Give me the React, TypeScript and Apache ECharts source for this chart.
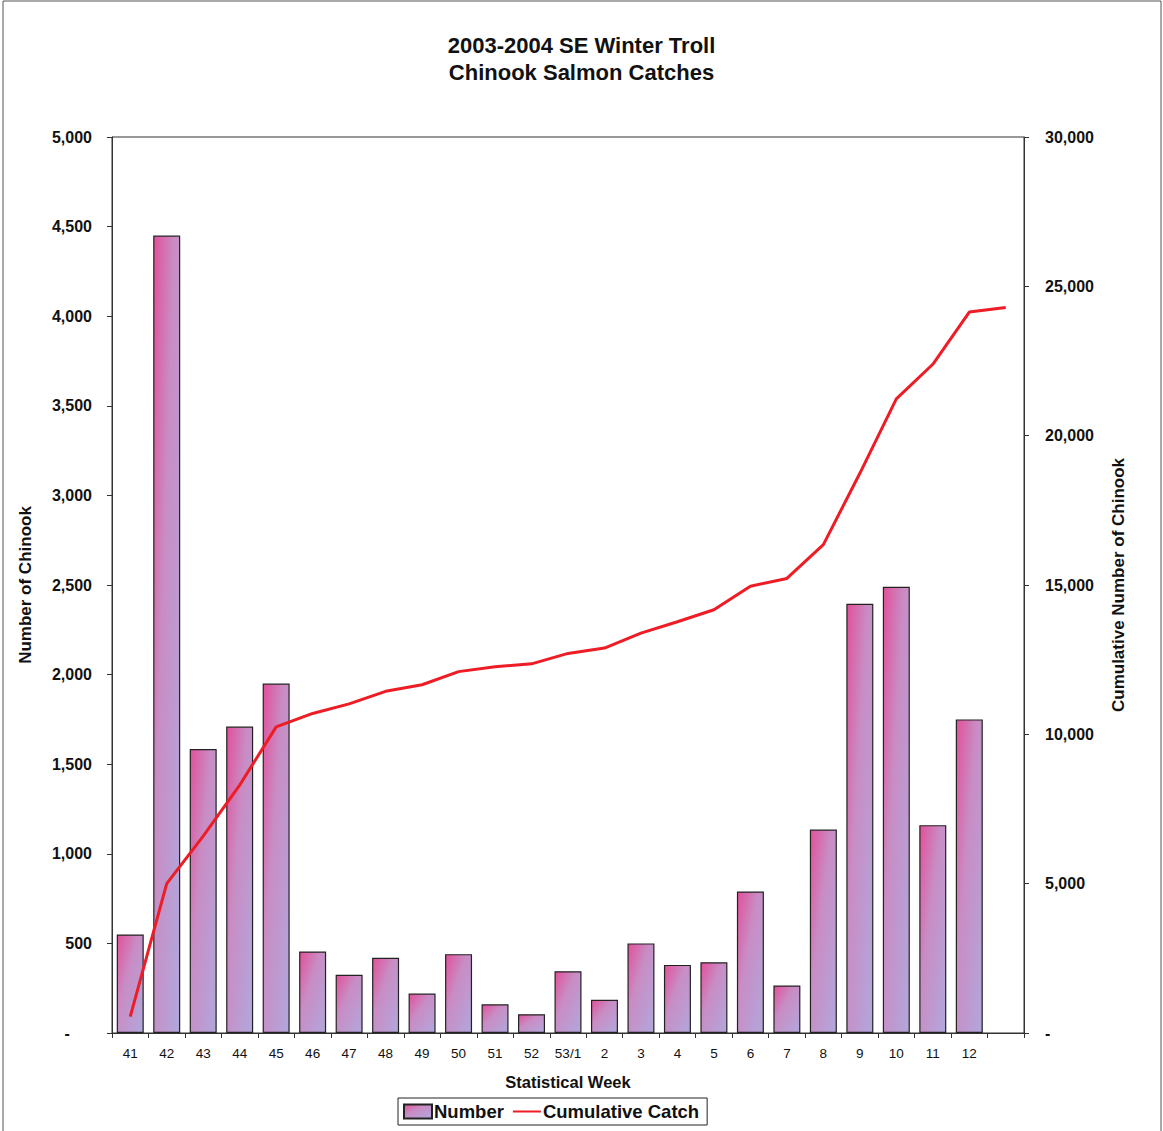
import React, { useEffect, useRef } from "react";
import * as echarts from "echarts";

const weeks = ["41", "42", "43", "44", "45", "46", "47", "48", "49", "50", "51", "52", "53/1", "2", "3", "4", "5", "6", "7", "8", "9", "10", "11", "12", ""];
const numbers = [550, 4450, 1585, 1710, 1950, 455, 325, 420, 220, 440, 160, 105, 345, 185, 500, 380, 395, 790, 265, 1135, 2395, 2490, 1160, 1750, null];
const cumulative = [550, 5000, 6590, 8300, 10250, 10700, 11020, 11440, 11660, 12100, 12260, 12360, 12710, 12890, 13390, 13770, 14170, 14960, 15220, 16350, 18740, 21230, 22390, 24140, 24290];
const leftTicks = { min: 0, max: 5000, interval: 500 };
const rightTicks = { min: 0, max: 30000, interval: 5000 };

const FONT = "'Liberation Sans', Arial, Helvetica, sans-serif";

export default function App() {
  const ref = useRef<HTMLDivElement>(null);
  useEffect(() => {
    if (!ref.current) return;
    const chart = echarts.init(ref.current, undefined, { renderer: "svg" });
    const fmt = (v: number) => v.toLocaleString("en-US");
    const barFill = new echarts.graphic.LinearGradient(0, 0, 1, 1, [
      { offset: 0, color: "#e2509a" },
      { offset: 0.4, color: "#c98cc4" },
      { offset: 1, color: "#b0a8dc" },
    ]);
    chart.setOption({
      animation: false,
      backgroundColor: "#ffffff",
      textStyle: { fontFamily: FONT, color: "#000" },
      title: {
        text: "2003-2004 SE Winter Troll\nChinook Salmon Catches",
        left: "center",
        top: 27,
        textStyle: { fontFamily: FONT, fontSize: 22, fontWeight: "bold", color: "#111", lineHeight: 27 },
      },
      graphic: [
        {
          type: "rect",
          shape: { x: 3, y: 1, width: 1158, height: 1140 },
          style: { fill: "none", stroke: "#555", lineWidth: 1 },
          silent: true,
        },
      ],
      legend: {
        left: 398,
        top: 1098,
        padding: [4, 8, 4, 5],
        itemGap: 8,
        itemWidth: 28,
        itemHeight: 14,
        borderColor: "#222",
        borderWidth: 1,
        textStyle: { fontFamily: FONT, fontSize: 18.5, fontWeight: "bold", color: "#111", padding: [0, 0, 0, -3] },
        data: [
          { name: "Number", icon: "rect" },
          {
            name: "Cumulative Catch",
            itemStyle: { color: "rgba(0,0,0,0)", borderColor: "rgba(0,0,0,0)", borderWidth: 0 },
          },
        ],
      },
      grid: {
        left: 112,
        right: 139,
        top: 137,
        bottom: 98,
        show: true,
        borderColor: "#333",
        borderWidth: 1,
        backgroundColor: "transparent",
      },
      xAxis: {
        type: "category",
        data: weeks,
        boundaryGap: true,
        name: "Statistical Week",
        nameLocation: "middle",
        nameGap: 40,
        nameTextStyle: { fontFamily: FONT, fontSize: 16.5, fontWeight: "bold", color: "#111" },
        axisLine: { lineStyle: { color: "#333", width: 1 } },
        axisTick: { show: true, length: 5, alignWithLabel: false, lineStyle: { color: "#333" } },
        axisLabel: { interval: 0, fontSize: 13.5, color: "#111", margin: 13, fontFamily: FONT },
      },
      yAxis: [
        {
          type: "value",
          position: "left",
          min: leftTicks.min,
          max: leftTicks.max,
          interval: leftTicks.interval,
          name: "Number of Chinook",
          nameLocation: "middle",
          nameRotate: 90,
          nameGap: 78,
          nameTextStyle: { fontFamily: FONT, fontSize: 17, fontWeight: "bold", color: "#111" },
          splitLine: { show: false },
          axisLine: { show: true, lineStyle: { color: "#333", width: 1 } },
          axisTick: { show: true, length: 5, lineStyle: { color: "#333" } },
          axisLabel: {
            fontSize: 16,
            fontWeight: "bold",
            color: "#111",
            margin: 20,
            fontFamily: FONT,
            formatter: (v: number) => (v === 0 ? "-     " : fmt(v)),
          },
        },
        {
          type: "value",
          position: "right",
          min: rightTicks.min,
          max: rightTicks.max,
          interval: rightTicks.interval,
          name: "Cumulative Number of Chinook",
          nameLocation: "middle",
          nameRotate: 90,
          nameGap: 86,
          nameTextStyle: { fontFamily: FONT, fontSize: 17, fontWeight: "bold", color: "#111" },
          splitLine: { show: false },
          axisLine: { show: true, lineStyle: { color: "#333", width: 1 } },
          axisTick: { show: true, length: 5, lineStyle: { color: "#333" } },
          axisLabel: {
            fontSize: 16,
            fontWeight: "bold",
            color: "#111",
            margin: 21,
            fontFamily: FONT,
            formatter: (v: number) => (v === 0 ? "-" : fmt(v)),
          },
        },
      ],
      series: [
        {
          name: "Number",
          type: "bar",
          yAxisIndex: 0,
          data: numbers,
          barWidth: "74%",
          itemStyle: { color: barFill, borderColor: "#222", borderWidth: 1.2 },
        },
        {
          name: "Cumulative Catch",
          type: "line",
          yAxisIndex: 1,
          data: cumulative,
          symbol: "none",
          showSymbol: false,
          lineStyle: { color: "#ee1c25", width: 3 },
          itemStyle: { color: "#ee1c25" },
          z: 5,
        },
      ],
    });
    return () => chart.dispose();
  }, []);
  return (
    <div
      ref={ref}
      style={{ position: "fixed", left: 0, top: 0, width: 1163, height: 1131, background: "#fff" }}
    />
  );
}
